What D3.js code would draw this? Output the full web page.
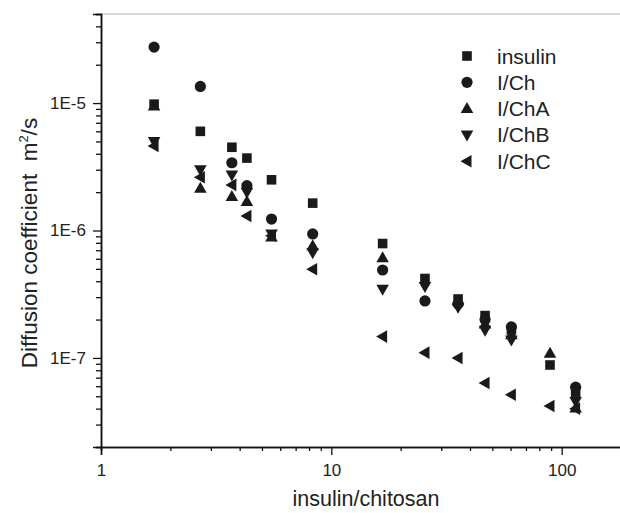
<!DOCTYPE html>
<html>
    <head>
        <title>Diffusion coefficient</title>
        <meta charset="UTF-8">
        <script type="text/javascript" src="https://d3js.org/d3.v7.min.js"></script>
        <style>
            body { margin: 0; background: #fff; }
            svg { display: block; font-family: "Liberation Sans", Arial, sans-serif; }
        </style>
    </head>
    <body>
        <script>
        // insulin/chitosan ratios
        var ratio = [1.7, 2.7, 3.7, 4.3, 5.5, 8.3, 16.7, 25.5, 35.5, 46.5, 60.5, 89, 115];

        // diffusion coefficients, m2/s (null = no point)
        var insulin = [9.8e-6, 6.0e-6, 4.5e-6, 3.7e-6, 2.5e-6, 1.64e-6, 7.9e-7, 4.2e-7, 2.9e-7, 2.15e-7, 1.66e-7, 8.8e-8, 5.3e-8];
        var iCh     = [2.75e-5, 1.35e-5, 3.4e-6, 2.25e-6, 1.23e-6, 9.4e-7, 4.9e-7, 2.8e-7, 2.65e-7, 2.0e-7, 1.75e-7, null, 5.9e-8];
        var iChA    = [9.5e-6, 2.15e-6, 1.85e-6, 1.69e-6, 8.9e-7, 7.6e-7, 6.1e-7, null, 2.8e-7, 1.85e-7, 1.52e-7, 1.09e-7, 4.05e-8];
        var iChB    = [5.0e-6, 3.0e-6, 2.73e-6, 2.0e-6, 9.4e-7, 6.7e-7, 3.46e-7, 3.63e-7, 2.5e-7, 1.65e-7, 1.38e-7, null, 4.55e-8];
        var iChC    = [4.6e-6, 2.62e-6, 2.28e-6, 1.30e-6, 9.1e-7, 4.97e-7, 1.47e-7, 1.10e-7, 1.0e-7, 6.35e-8, 5.14e-8, 4.2e-8, 4.0e-8];

        var seriesNames = ["insulin", "I/Ch", "I/ChA", "I/ChB", "I/ChC"];
        var seriesValues = [insulin, iCh, iChA, iChB, iChC];
        var seriesShapes = ["square", "circle", "up", "down", "left"];

        var xMajor = [1, 10, 100];
        var yMajor = [1e-7, 1e-6, 1e-5];

        var W = 620, H = 513;
        var mLeft = 101, mRight = 631, mTop = 14, mBottom = 447;

        var svg = d3.select("body").append("svg")
            .attr("width", W).attr("height", H);

        var x = d3.scaleLog().domain([1, 200]).range([mLeft, mRight]);
        var y = d3.scaleLog().domain([2e-8, 5e-5]).range([mBottom, mTop]);

        // shape paths
        function shape(k) {
            if (k == "square") return "M-4.8,-4.8H4.8V4.8H-4.8Z";
            if (k == "circle") return "M5.6,0A5.6,5.6 0 1,1 -5.6,0A5.6,5.6 0 1,1 5.6,0Z";
            if (k == "up") return "M0,-6.5L6.3,4.5L-6.3,4.5Z";
            if (k == "down") return "M0,6.5L6.3,-4.5L-6.3,-4.5Z";
            if (k == "left") return "M-6.5,0L4.5,-6.3L4.5,6.3Z";
        }

        // top frame line
        svg.append("line")
            .attr("x1", mLeft).attr("x2", W).attr("y1", mTop).attr("y2", mTop)
            .attr("stroke", "#c8c8c8").attr("stroke-width", 1.5);

        // x axis
        var xMinor = x.ticks().filter(function(d) { return xMajor.indexOf(d) < 0; });
        var gx = svg.append("g").attr("transform", "translate(0," + mBottom + ")");
        gx.call(d3.axisBottom(x).tickValues(xMinor).tickSize(4).tickFormat(""));
        gx.append("g").call(d3.axisBottom(x).tickValues(xMajor).tickSize(8).tickPadding(9)
            .tickFormat(d3.format("d")));

        // y axis
        var yMinor = y.ticks().filter(function(d) {
            return yMajor.every(function(m) { return Math.abs(d / m - 1) > 1e-6; });
        });
        var gy = svg.append("g").attr("transform", "translate(" + mLeft + ",0)");
        gy.call(d3.axisLeft(y).tickValues(yMinor).tickSize(5).tickFormat(""));
        gy.append("g").call(d3.axisLeft(y).tickValues(yMajor).tickSize(8).tickPadding(7)
            .tickFormat(function(d) { return "1E" + Math.round(Math.log10(d)); }));

        svg.selectAll(".domain").attr("stroke", "#111").attr("stroke-width", 1.5);
        svg.selectAll(".tick line").attr("stroke", "#111").attr("stroke-width", 1.3);
        svg.selectAll(".tick text").attr("fill", "#222").attr("font-size", 17)
            .attr("font-family", "Liberation Sans, Arial, sans-serif");

        // points
        seriesValues.forEach(function(vals, si) {
            var pts = ratio.map(function(r, i) { return {x: r, y: vals[i]}; })
                .filter(function(d) { return d.y != null; });
            svg.append("g").selectAll("path")
                .data(pts)
              .enter().append("path")
                .attr("d", shape(seriesShapes[si]))
                .attr("transform", function(d) { return "translate(" + x(d.x) + "," + y(d.y) + ")"; })
                .attr("fill", "#1a1a1a");
        });

        // legend
        var lg = svg.append("g").attr("transform", "translate(467,56)");
        seriesNames.forEach(function(n, i) {
            var row = lg.append("g").attr("transform", "translate(0," + (i * 26.3) + ")");
            row.append("path").attr("d", shape(seriesShapes[i])).attr("fill", "#1a1a1a");
            row.append("text").attr("x", 30).attr("y", 7.5)
                .attr("font-size", 21).attr("fill", "#222").text(n);
        });

        // axis titles
        svg.append("text")
            .attr("x", 366).attr("y", 506)
            .attr("text-anchor", "middle").attr("font-size", 21.5).attr("fill", "#222")
            .text("insulin/chitosan");

        var yt = svg.append("text")
            .attr("transform", "translate(37,243) rotate(-90)")
            .attr("text-anchor", "middle").attr("font-size", 22.5).attr("fill", "#222");
        yt.append("tspan").text("Diffusion coefficient\u00a0\u00a0m");
        yt.append("tspan").attr("font-size", 13).attr("dy", -9).text("2");
        yt.append("tspan").attr("dy", 9).text("/s");
        </script>
    </body>
</html>
